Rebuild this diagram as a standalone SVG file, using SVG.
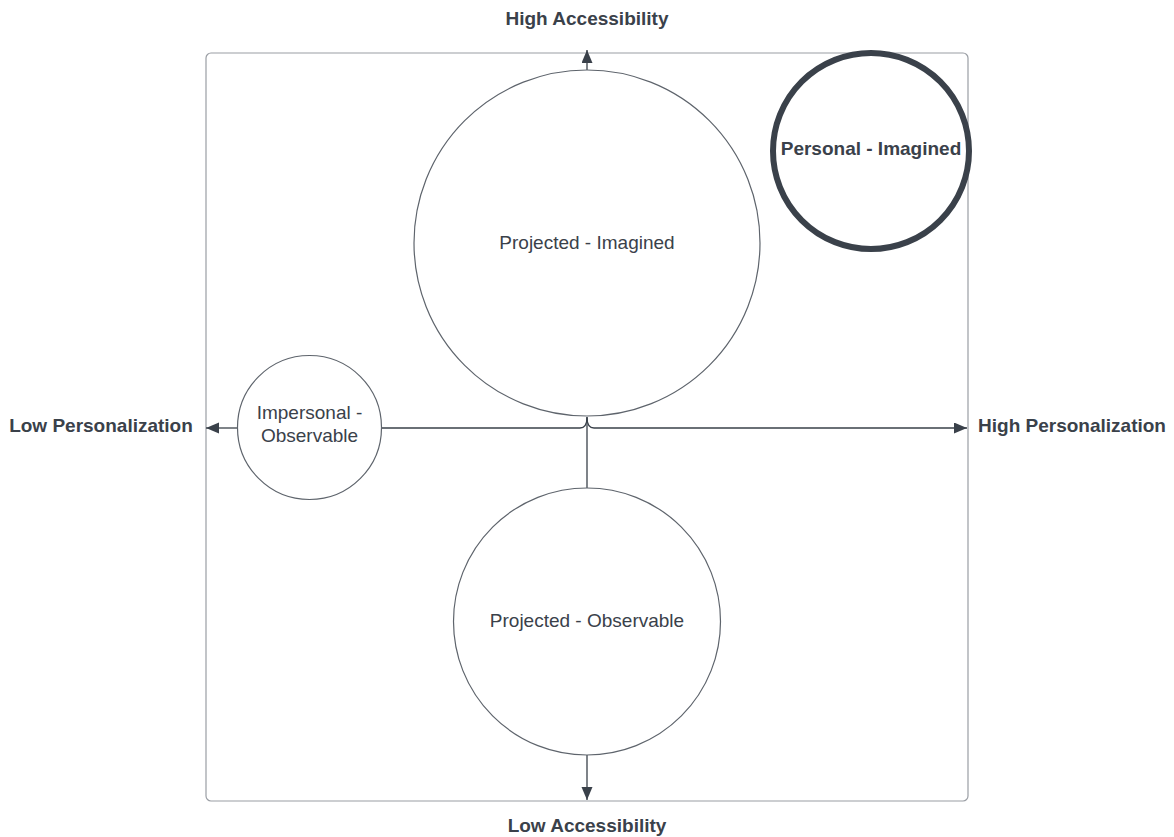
<svg xmlns="http://www.w3.org/2000/svg" width="1174" height="837" viewBox="0 0 1174 837">
  <style>
    .lbl { font-family: "Liberation Sans", Arial, sans-serif; font-size: 19px; fill: #3a414a; text-anchor: middle; }
    .b { font-weight: bold; }
    .node { fill: #ffffff; stroke: #5e646c; stroke-width: 1.2; }
    .conn { fill: none; stroke: #3a414a; stroke-width: 1.3; }
  </style>
  <defs>
    <marker id="arrow" markerUnits="userSpaceOnUse" markerWidth="14" markerHeight="12" refX="13" refY="5.5" orient="auto">
      <path d="M0,0 L13,5.5 L0,11 Z" fill="#3a414a"/>
    </marker>
  </defs>
  <rect width="1174" height="837" fill="#ffffff"/>

  <g id="frame">
    <rect x="206" y="53" width="762" height="748" rx="5" ry="5" fill="none" stroke="#9a9ea4" stroke-width="1.2"/>
  </g>

  <g id="axis-labels">
    <text class="lbl b" x="587" y="25">High Accessibility</text>
    <text class="lbl b" x="587" y="832">Low Accessibility</text>
    <text class="lbl b" x="101" y="432">Low Personalization</text>
    <text class="lbl b" x="1072" y="432">High Personalization</text>
  </g>

  <g id="connectors">
    <path class="conn" d="M587,70 L587,50" marker-end="url(#arrow)"/>
    <path class="conn" d="M587,417 Q587,428 580,428 L381,428"/>
    <path class="conn" d="M587,417 Q587,428 594,428 L967,428" marker-end="url(#arrow)"/>
    <path class="conn" d="M587,488 L587,418"/>
    <path class="conn" d="M238,428 L206,428" marker-end="url(#arrow)"/>
    <path class="conn" d="M587,755 L587,800" marker-end="url(#arrow)"/>
  </g>

  <g id="projected-imagined">
    <circle class="node" cx="587" cy="243" r="173"/>
    <text class="lbl" x="587" y="249">Projected - Imagined</text>
  </g>

  <g id="impersonal-observable">
    <circle class="node" cx="309.5" cy="427.5" r="72"/>
    <text class="lbl" x="309.5" y="419">Impersonal -</text>
    <text class="lbl" x="309.5" y="442">Observable</text>
  </g>

  <g id="projected-observable">
    <circle class="node" cx="587" cy="621.5" r="133.5"/>
    <text class="lbl" x="587" y="627">Projected - Observable</text>
  </g>

  <g id="personal-imagined">
    <circle cx="871" cy="151" r="98" fill="#ffffff" stroke="#3a414a" stroke-width="6"/>
    <text class="lbl b" x="871" y="155">Personal - Imagined</text>
  </g>
</svg>
